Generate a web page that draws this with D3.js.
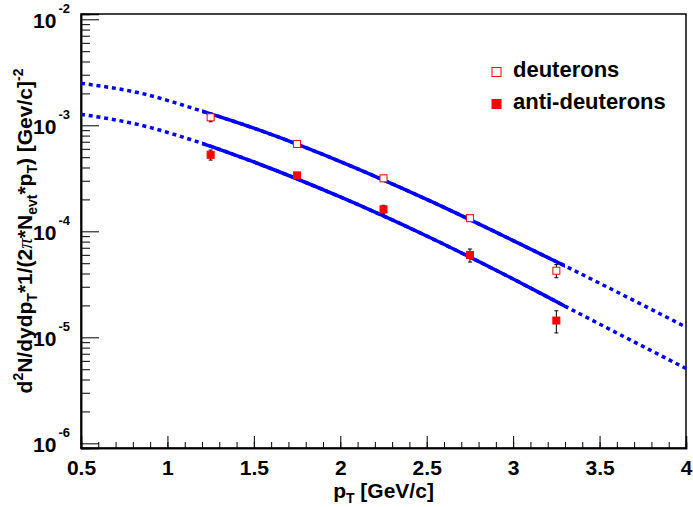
<!DOCTYPE html>
<html lang="en">
<head>
<meta charset="UTF-8">
<title>Deuteron spectra</title>
<style>
  body { margin: 0; background: #fff; }
  text { font-family: "Liberation Sans", Arial, sans-serif; font-weight: bold; }
</style>
</head>
<body>
<script src="https://d3js.org/d3.v7.min.js"></script>
<div id="chart"></div>
<script>
// measured points (pT bin centres)
var pt = [1.25, 1.75, 2.25, 2.75, 3.25]
var deut = [1.19e-3, 6.67e-4, 3.16e-4, 1.33e-4, 4.25e-5]
var deutErr = [1.1e-4, 2.0e-5, 1.0e-5, 8e-6, 6e-6]
var anti = [5.27e-4, 3.37e-4, 1.61e-4, 5.97e-5, 1.44e-5]
var antiErr = [5.7e-5, 1.5e-5, 1.5e-5, 8.4e-6, 3.4e-6]

// fit curves
var fitPt = [0.5, 0.85, 1.2, 1.5, 2.0, 2.5, 3.0, 3.3, 4.0]
var deutFit = [2.49e-3, 2.0e-3, 1.36e-3, 9.4e-4, 4.55e-4, 2.0e-4, 8.18e-5, 4.71e-5, 1.25e-5]
var antiFit = [1.27e-3, 1.0e-3, 6.76e-4, 4.51e-4, 2.11e-4, 9.03e-5, 3.55e-5, 1.97e-5, 5.08e-6]
var fitRange = [1.2, 3.3]

var xMajor = [0.5, 1, 1.5, 2, 2.5, 3, 3.5, 4]
var xLabels = ["0.5", "1", "1.5", "2", "2.5", "3", "3.5", "4"]
var yDecades = [1e-6, 1e-5, 1e-4, 1e-3, 1e-2]
var yExp = ["-6", "-5", "-4", "-3", "-2"]
var legendNames = ["deuterons", "anti-deuterons"]

var width = 693, height = 507
var padL = 81, padR = 686, padT = 14, padB = 448   // frame edges

var svg = d3.select("#chart").append("svg")
  .attr("width", width).attr("height", height)

var x = d3.scaleLinear().domain([0.5, 4]).range([padL, padR])
var y = d3.scaleLog().domain([Math.pow(10, -6.044), Math.pow(10, -1.95)]).range([padB, padT])

// minor ticks
var xMinor = d3.range(5, 41).map(function(d){ return d / 10 })
var yMinor = []
yDecades.forEach(function(dec){
  for (var k = 2; k <= 9; k++) { if (dec * k < 1e-2) yMinor.push(dec * k) }
})

svg.append("g").attr("transform", "translate(0," + padB + ")")
  .call(d3.axisBottom(x).tickValues(xMinor).tickSize(-6).tickFormat(""))
svg.append("g").attr("transform", "translate(0," + padB + ")")
  .call(d3.axisBottom(x).tickValues(xMajor).tickSize(-12).tickPadding(12)
    .tickFormat(function(d, i){ return xLabels[i] }))
  .selectAll("text").attr("font-size", 21).attr("fill", "#000")

svg.append("g").attr("transform", "translate(" + padL + ",0)")
  .call(d3.axisLeft(y).tickValues(yMinor).tickSize(-9).tickFormat(""))
var yAx = svg.append("g").attr("transform", "translate(" + padL + ",0)")
  .call(d3.axisLeft(y).tickValues(yDecades).tickSize(-18).tickFormat(""))

yAx.selectAll(".tick").each(function(d, i){
  var t = d3.select(this).append("text")
    .attr("x", -11).attr("y", 8).attr("text-anchor", "end").attr("fill", "#000")
  t.append("tspan").attr("font-size", 21).text("10")
  t.append("tspan").attr("font-size", 13).attr("dx", 2).attr("dy", -15).text(yExp[i])
})

svg.selectAll(".domain").attr("stroke-width", 1.5)
svg.selectAll(".tick line").attr("stroke-width", 1)

// frame
svg.append("rect").attr("x", padL).attr("y", padT)
  .attr("width", padR - padL).attr("height", padB - padT)
  .attr("fill", "none").attr("stroke", "#000").attr("stroke-width", 1.5)

// fits
svg.append("clipPath").attr("id", "fitclip").append("rect")
  .attr("x", x(fitRange[0])).attr("y", 0)
  .attr("width", x(fitRange[1]) - x(fitRange[0])).attr("height", height)

var line = d3.line()
  .x(function(d){ return x(d[0]) })
  .y(function(d){ return y(d[1]) })
  .curve(d3.curveMonotoneX)

;[deutFit, antiFit].forEach(function(f){
  var pts = fitPt.map(function(p, i){ return [p, f[i]] })
  svg.append("path").attr("d", line(pts)).attr("fill", "none")
    .attr("stroke", "#0000ff").attr("stroke-width", 3.5).attr("stroke-dasharray", "4,3.8")
  svg.append("path").attr("d", line(pts)).attr("fill", "none")
    .attr("stroke", "#0000ff").attr("stroke-width", 3.5).attr("clip-path", "url(#fitclip)")
})

// data points
function drawSeries(vals, errs, open) {
  pt.forEach(function(p, i){
    var cx = x(p), cy = y(vals[i])
    var y1 = y(vals[i] + errs[i]), y2 = y(vals[i] - errs[i])
    svg.append("line").attr("x1", cx).attr("x2", cx).attr("y1", y1).attr("y2", y2)
      .attr("stroke", "#000").attr("stroke-width", 1)
    ;[y1, y2].forEach(function(yy){
      svg.append("line").attr("x1", cx - 2).attr("x2", cx + 2).attr("y1", yy).attr("y2", yy)
        .attr("stroke", "#000").attr("stroke-width", 1)
    })
    svg.append("rect").attr("x", cx - 3.5).attr("y", cy - 3.5).attr("width", 7).attr("height", 7)
      .attr("fill", open ? "#fff" : "#ff0000").attr("stroke", "#ff0000").attr("stroke-width", 1)
  })
}
drawSeries(deut, deutErr, true)
drawSeries(anti, antiErr, false)

// legend
legendNames.forEach(function(name, i){
  var ly = 72 + i * 32
  svg.append("rect").attr("x", 492).attr("y", ly - 4.5).attr("width", 9).attr("height", 9)
    .attr("fill", i == 0 ? "#fff" : "#ff0000").attr("stroke", "#ff0000").attr("stroke-width", 1)
  svg.append("text").attr("x", 513).attr("y", ly + 5).attr("font-size", 22).text(name)
})

// axis titles
var xt = svg.append("text").attr("x", (padL + padR) / 2).attr("y", 498)
  .attr("text-anchor", "middle").attr("font-size", 21)
xt.append("tspan").text("p")
xt.append("tspan").attr("font-size", 14).attr("dy", 5).text("T")
xt.append("tspan").attr("dy", -5).text(" [GeV/c]")

var yt = svg.append("text").attr("transform", "translate(32," + ((padT + padB) / 2) + ") rotate(-90)")
  .attr("text-anchor", "middle").attr("font-size", 21)
var parts = [
  ["d", 0], ["2", -1], ["N/dydp", 0], ["T", 1], ["*1/(2", 0], ["\u03c0", 2], ["*N", 0],
  ["evt", 1], ["*p", 0], ["T", 1], [") [Gev/c]", 0], ["-2", -1]
]
var shift = 0
parts.forEach(function(p){
  var s = p[1] == -1 ? -9 : (p[1] == 1 ? 5 : 0)
  var ts = yt.append("tspan").attr("dy", s - shift).text(p[0])
  if (p[1] == -1 || p[1] == 1) ts.attr("font-size", 14)
  if (p[1] == 2) ts.attr("font-family", "Liberation Serif").attr("font-weight", "normal").attr("font-style", "italic")
  shift = s
})
</script>
</body>
</html>
